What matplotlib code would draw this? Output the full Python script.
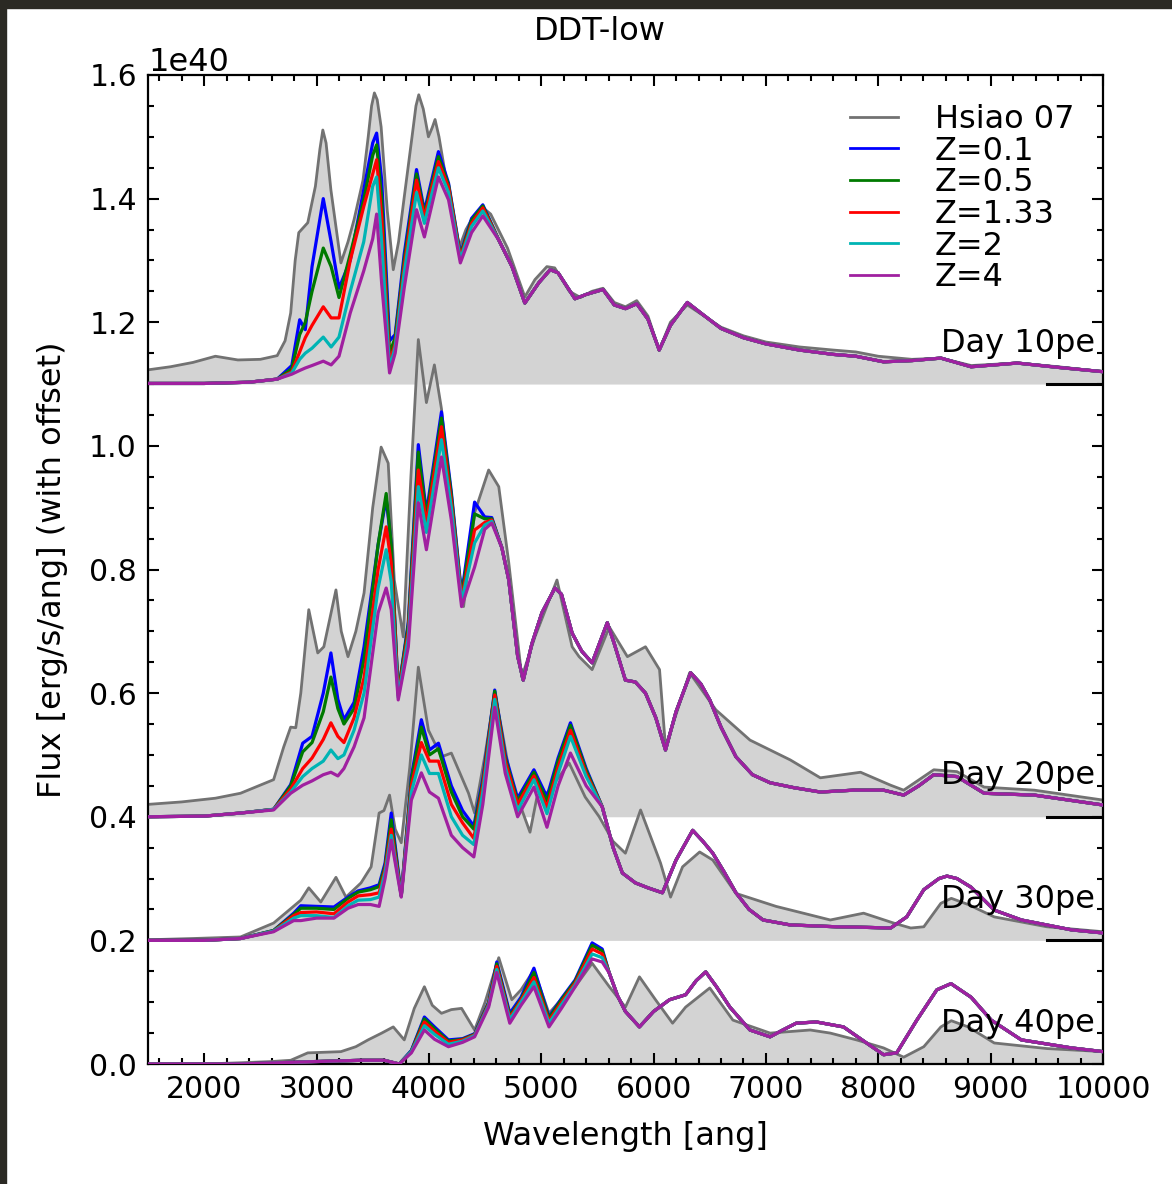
import numpy as np
import matplotlib
matplotlib.use("Agg")
import matplotlib.pyplot as plt
from matplotlib.lines import Line2D
from matplotlib.patches import Rectangle
from matplotlib.ticker import MultipleLocator

# ---------------------------------------------------------------------------
# Spectra, flux in units of 1e40 erg/s/ang, already shifted by each epoch offset
# ---------------------------------------------------------------------------
SCALE = 1e40
epochs = ["Day 10pe", "Day 20pe", "Day 30pe", "Day 40pe"]
offsets = [1.1, 0.4, 0.2, 0.0]
z_labels = ["Z=0.1", "Z=0.5", "Z=1.33", "Z=2", "Z=4"]
z_colors = ["#0000ff", "#007a00", "#ff0000", "#00b4b4", "#a020a0"]

# ---- Day 10 ----
hsiao_wl_d10 = [1500, 1700, 1900, 2100, 2300, 2500, 2650, 2720, 2770, 2810, 2842, 2922,
                2990, 3030, 3056, 3085, 3128, 3217, 3280, 3334, 3414, 3460, 3490, 3515, 3540, 3575,
                3630, 3683, 3730, 3781, 3850, 3885, 3910, 3950, 3996, 4030, 4055, 4090, 4139, 4200,
                4273, 4330, 4380, 4470, 4550, 4700, 4854, 4944, 5050, 5120, 5250, 5350,
                5450, 5550, 5650, 5750, 5850, 5950, 6050, 6150, 6300, 6450, 6600, 6800,
                7000, 7300, 7600, 7800, 8000, 8300, 8557, 8826, 9237, 9600, 10000]
hsiao_d10 = [1.123, 1.128, 1.135, 1.145, 1.139, 1.140, 1.146, 1.170, 1.215, 1.300, 1.345, 1.361,
             1.420, 1.480, 1.511, 1.490, 1.414, 1.296, 1.330, 1.366, 1.430, 1.500, 1.550, 1.571, 1.560, 1.516,
             1.380, 1.285, 1.330, 1.403, 1.500, 1.550, 1.568, 1.545, 1.500, 1.515, 1.528, 1.500, 1.447, 1.380,
             1.322, 1.350, 1.366, 1.387, 1.375, 1.320, 1.241, 1.269, 1.290, 1.288, 1.250, 1.240,
             1.250, 1.255, 1.232, 1.225, 1.235, 1.210, 1.155, 1.200, 1.228, 1.210, 1.192, 1.178,
             1.168, 1.160, 1.155, 1.152, 1.145, 1.140, 1.142, 1.130, 1.134, 1.128, 1.120]

blue_wl_d10 = [1500, 2000, 2400, 2650, 2780, 2850, 2900, 2960, 3060, 3130, 3200, 3300,
               3420, 3500, 3535, 3580, 3650, 3700, 3780, 3890, 3960, 4085, 4175, 4280,
               4380, 4480]
z01_d10 = [1.101, 1.101, 1.103, 1.108, 1.130, 1.204, 1.188, 1.290, 1.400, 1.330, 1.255, 1.300,
           1.414, 1.490, 1.506, 1.430, 1.170, 1.180, 1.310, 1.447, 1.380, 1.476, 1.425, 1.310,
           1.368, 1.390]
z05_d10 = [1.101, 1.101, 1.103, 1.108, 1.125, 1.180, 1.200, 1.250, 1.320, 1.290, 1.240, 1.310,
           1.398, 1.470, 1.487, 1.400, 1.150, 1.175, 1.300, 1.440, 1.375, 1.468, 1.422, 1.308,
           1.365, 1.388]
z133_d10 = [1.101, 1.101, 1.103, 1.108, 1.120, 1.152, 1.175, 1.195, 1.225, 1.207, 1.207, 1.300,
            1.387, 1.440, 1.463, 1.370, 1.135, 1.165, 1.290, 1.430, 1.370, 1.460, 1.418, 1.305,
            1.360, 1.385]
z2_d10 = [1.101, 1.101, 1.103, 1.108, 1.118, 1.140, 1.150, 1.158, 1.176, 1.160, 1.176, 1.250,
          1.330, 1.420, 1.435, 1.330, 1.125, 1.160, 1.280, 1.410, 1.360, 1.450, 1.410, 1.302,
          1.355, 1.380]
z4_d10 = [1.101, 1.101, 1.103, 1.108, 1.116, 1.122, 1.126, 1.130, 1.137, 1.131, 1.145, 1.215,
          1.283, 1.335, 1.375, 1.262, 1.118, 1.150, 1.255, 1.382, 1.338, 1.435, 1.398, 1.296,
          1.345, 1.372]
tail_wl_d10 = [4622, 4740, 4854, 4979, 5080, 5150, 5300, 5400, 5550, 5650, 5750, 5850,
               5950, 6050, 6150, 6300, 6420, 6600, 6800, 7000, 7300, 7600, 7800, 8047,
               8300, 8557, 8826, 9237, 9600, 10000]
tail_d10 = [1.333, 1.290, 1.231, 1.264, 1.285, 1.280, 1.238, 1.245, 1.253, 1.228, 1.222, 1.230,
            1.205, 1.155, 1.195, 1.232, 1.215, 1.190, 1.175, 1.165, 1.155, 1.148, 1.145, 1.136,
            1.138, 1.142, 1.128, 1.134, 1.127, 1.120]

# ---- Day 20 ----
hsiao_wl_d20 = [1500, 1800, 2100, 2323, 2618, 2708, 2770, 2815, 2860, 2931, 3011, 3065,
                3173, 3220, 3280, 3350, 3423, 3500, 3575, 3638, 3692, 3772, 3840, 3906,
                3978, 4049, 4112, 4228, 4309, 4407, 4532, 4622, 4711, 4827, 4944, 5140,
                5275, 5337, 5453, 5606, 5767, 5928, 6053, 6106, 6321, 6554, 6858, 7216,
                7484, 7842, 8110, 8226, 8494, 8700, 8942, 9389, 10000]
hsiao_d20 = [0.420, 0.424, 0.430, 0.438, 0.460, 0.513, 0.545, 0.544, 0.600, 0.735, 0.665, 0.675,
             0.767, 0.700, 0.659, 0.700, 0.762, 0.900, 0.998, 0.972, 0.783, 0.691, 0.950, 1.172,
             1.070, 1.131, 1.060, 0.848, 0.740, 0.892, 0.961, 0.934, 0.811, 0.626, 0.691, 0.783,
             0.675, 0.659, 0.638, 0.707, 0.659, 0.675, 0.638, 0.513, 0.633, 0.573, 0.524, 0.492,
             0.463, 0.472, 0.451, 0.443, 0.476, 0.473, 0.448, 0.443, 0.427]

blue_wl_d20 = [1500, 2000, 2323, 2618, 2770, 2877, 2960, 3060, 3128, 3190, 3244, 3334,
               3423, 3548, 3620, 3665, 3727, 3817, 3906, 3978, 4112, 4200, 4291, 4407,
               4497, 4560]
z01_d20 = [0.400, 0.401, 0.406, 0.412, 0.452, 0.519, 0.530, 0.600, 0.665, 0.590, 0.557, 0.585,
           0.675, 0.840, 0.915, 0.840, 0.600, 0.715, 1.002, 0.892, 1.055, 0.925, 0.760, 0.909,
           0.885, 0.884]
z05_d20 = [0.400, 0.401, 0.406, 0.412, 0.450, 0.505, 0.520, 0.570, 0.626, 0.575, 0.550, 0.575,
           0.655, 0.840, 0.923, 0.840, 0.600, 0.710, 0.990, 0.885, 1.045, 0.920, 0.756, 0.890,
           0.882, 0.882]
z133_d20 = [0.400, 0.401, 0.406, 0.412, 0.445, 0.478, 0.495, 0.525, 0.552, 0.530, 0.520, 0.560,
            0.625, 0.800, 0.869, 0.810, 0.596, 0.700, 0.961, 0.875, 1.031, 0.910, 0.752, 0.864,
            0.876, 0.880]
z2_d20 = [0.400, 0.401, 0.406, 0.412, 0.440, 0.465, 0.478, 0.490, 0.508, 0.494, 0.500, 0.540,
          0.600, 0.770, 0.832, 0.780, 0.593, 0.690, 0.934, 0.860, 1.010, 0.900, 0.748, 0.843,
          0.872, 0.878]
z4_d20 = [0.400, 0.401, 0.406, 0.411, 0.438, 0.451, 0.458, 0.468, 0.472, 0.466, 0.478, 0.513,
          0.560, 0.730, 0.770, 0.735, 0.589, 0.675, 0.908, 0.832, 0.982, 0.880, 0.740, 0.804,
          0.865, 0.875]
tail_wl_d20 = [4650, 4711, 4790, 4840, 4917, 5006, 5122, 5180, 5275, 5360, 5453, 5588,
               5650, 5749, 5838, 5928, 6020, 6106, 6200, 6330, 6420, 6500, 6600, 6733,
               6880, 7037, 7250, 7484, 7780, 8047, 8226, 8360, 8494, 8700, 8942, 9389, 10000]
tail_d20 = [0.835, 0.783, 0.660, 0.621, 0.680, 0.730, 0.770, 0.760, 0.697, 0.668, 0.649, 0.714,
            0.680, 0.621, 0.618, 0.600, 0.560, 0.508, 0.570, 0.633, 0.615, 0.589, 0.545, 0.497,
            0.468, 0.455, 0.447, 0.440, 0.443, 0.443, 0.435, 0.450, 0.468, 0.465, 0.438, 0.435,
            0.419]

# ---- Day 30 ----
hsiao_wl_d30 = [1500, 1900, 2323, 2618, 2860, 2931, 3038, 3173, 3262, 3396, 3486, 3557,
                3600, 3650, 3700, 3754, 3830, 3906, 3996, 4112, 4200, 4353, 4407, 4500,
                4586, 4650, 4738, 4830, 4900, 4960, 5060, 5248, 5391, 5516, 5640, 5749,
                5884, 6062, 6151, 6258, 6410, 6527, 6733, 7090, 7332, 7573, 7869, 8137,
                8289, 8405, 8557, 8650, 8800, 9032, 9500, 10000]
hsiao_d30 = [0.201, 0.203, 0.2055, 0.228, 0.265, 0.285, 0.262, 0.302, 0.270, 0.293, 0.319, 0.406,
             0.410, 0.435, 0.380, 0.358, 0.480, 0.642, 0.540, 0.497, 0.503, 0.438, 0.406, 0.500,
             0.600, 0.540, 0.450, 0.410, 0.375, 0.430, 0.440, 0.487, 0.432, 0.400, 0.360, 0.341,
             0.411, 0.325, 0.270, 0.319, 0.343, 0.330, 0.276, 0.255, 0.244, 0.233, 0.244, 0.228,
             0.220, 0.222, 0.260, 0.268, 0.258, 0.238, 0.222, 0.214]

blue_wl_d30 = [1500, 2000, 2323, 2618, 2797, 2860, 3000, 3155, 3280, 3370, 3480, 3557,
               3610, 3665, 3754, 3844, 3933, 4005, 4085, 4200, 4300, 4400, 4480, 4586,
               4680, 4790, 4935, 5051, 5150, 5260, 5400]
z01_d30 = [0.200, 0.200, 0.203, 0.216, 0.244, 0.256, 0.255, 0.254, 0.270, 0.280, 0.285, 0.290,
           0.325, 0.406, 0.272, 0.465, 0.557, 0.508, 0.519, 0.450, 0.410, 0.385, 0.460, 0.605,
           0.500, 0.430, 0.476, 0.432, 0.495, 0.552, 0.478]
z05_d30 = [0.200, 0.200, 0.203, 0.216, 0.242, 0.252, 0.252, 0.250, 0.268, 0.278, 0.282, 0.287,
           0.320, 0.395, 0.272, 0.460, 0.545, 0.500, 0.510, 0.440, 0.400, 0.380, 0.455, 0.603,
           0.495, 0.425, 0.472, 0.425, 0.490, 0.548, 0.475]
z133_d30 = [0.200, 0.200, 0.203, 0.215, 0.240, 0.245, 0.246, 0.243, 0.262, 0.272, 0.274, 0.277,
            0.315, 0.380, 0.272, 0.450, 0.520, 0.490, 0.490, 0.420, 0.390, 0.365, 0.450, 0.597,
            0.490, 0.420, 0.466, 0.415, 0.480, 0.540, 0.470]
z2_d30 = [0.200, 0.200, 0.203, 0.215, 0.236, 0.240, 0.240, 0.237, 0.256, 0.265, 0.266, 0.270,
          0.310, 0.370, 0.272, 0.440, 0.500, 0.470, 0.470, 0.400, 0.370, 0.355, 0.440, 0.590,
          0.480, 0.410, 0.460, 0.405, 0.470, 0.530, 0.465]
z4_d30 = [0.200, 0.200, 0.203, 0.214, 0.232, 0.232, 0.236, 0.236, 0.252, 0.258, 0.258, 0.255,
          0.300, 0.362, 0.270, 0.427, 0.471, 0.440, 0.430, 0.370, 0.350, 0.335, 0.420, 0.577,
          0.470, 0.400, 0.448, 0.383, 0.450, 0.503, 0.450]
tail_wl_d30 = [5543, 5640, 5722, 5838, 5950, 6079, 6200, 6348, 6440, 6527, 6630, 6733,
               6850, 6974, 7216, 7627, 7900, 8110, 8253, 8405, 8540, 8611, 8700, 8826, 9032,
               9273, 9720, 10000]
tail_d30 = [0.416, 0.350, 0.309, 0.293, 0.285, 0.277, 0.330, 0.378, 0.360, 0.341, 0.310, 0.277,
            0.250, 0.233, 0.225, 0.222, 0.221, 0.220, 0.238, 0.282, 0.300, 0.304, 0.300, 0.286, 0.249,
            0.233, 0.217, 0.212]

# ---- Day 40 ----
hsiao_wl_d40 = [1500, 2000, 2323, 2600, 2770, 2922, 3217, 3350, 3459, 3580, 3683, 3781,
                3870, 3960, 4030, 4112, 4200, 4291, 4407, 4500, 4622, 4738, 4820, 4935,
                5069, 5180, 5302, 5453, 5606, 5749, 5874, 6017, 6169, 6285, 6500, 6706,
                7037, 7394, 7573, 7806, 8047, 8226, 8405, 8557, 8650, 8800, 9032, 9500, 10000]
hsiao_d40 = [0.000, 0.000, 0.002, 0.004, 0.006, 0.018, 0.020, 0.028, 0.039, 0.050, 0.060, 0.039,
             0.090, 0.125, 0.095, 0.082, 0.088, 0.090, 0.055, 0.100, 0.172, 0.104, 0.120, 0.152,
             0.082, 0.105, 0.125, 0.163, 0.125, 0.092, 0.141, 0.104, 0.066, 0.092, 0.123, 0.071,
             0.050, 0.055, 0.050, 0.039, 0.026, 0.011, 0.028, 0.060, 0.070, 0.060, 0.034, 0.025,
             0.020]

blue_wl_d40 = [1500, 2323, 3000, 3400, 3602, 3736, 3844, 3960, 4050, 4174, 4300, 4407,
               4532, 4604, 4720, 4820, 4935, 5069, 5180, 5302, 5453, 5543]
z01_d40 = [0.000, 0.000, 0.004, 0.006, 0.006, 0.000, 0.022, 0.076, 0.060, 0.039, 0.041, 0.049,
           0.100, 0.165, 0.082, 0.108, 0.155, 0.076, 0.106, 0.136, 0.196, 0.186]
z05_d40 = [0.000, 0.000, 0.004, 0.006, 0.006, 0.000, 0.021, 0.073, 0.057, 0.037, 0.040, 0.048,
           0.099, 0.162, 0.078, 0.105, 0.148, 0.074, 0.104, 0.134, 0.192, 0.183]
z133_d40 = [0.000, 0.000, 0.004, 0.006, 0.006, 0.000, 0.020, 0.068, 0.053, 0.035, 0.039, 0.047,
            0.097, 0.158, 0.075, 0.103, 0.140, 0.070, 0.100, 0.131, 0.186, 0.178]
z2_d40 = [0.000, 0.000, 0.004, 0.006, 0.006, 0.000, 0.020, 0.062, 0.048, 0.032, 0.037, 0.046,
          0.095, 0.153, 0.072, 0.100, 0.133, 0.066, 0.096, 0.128, 0.178, 0.172]
z4_d40 = [0.000, 0.000, 0.004, 0.006, 0.006, 0.000, 0.018, 0.055, 0.040, 0.028, 0.035, 0.044,
          0.092, 0.148, 0.066, 0.095, 0.125, 0.060, 0.090, 0.125, 0.170, 0.165]
tail_wl_d40 = [5606, 5680, 5749, 5874, 6000, 6142, 6285, 6380, 6464, 6560, 6679, 6858,
               7037, 7150, 7269, 7448, 7690, 7895, 8047, 8164, 8343, 8521, 8647, 8826,
               9005, 9273, 9720, 10000]
tail_d40 = [0.147, 0.110, 0.085, 0.060, 0.085, 0.104, 0.112, 0.135, 0.149, 0.125, 0.092, 0.055,
            0.044, 0.055, 0.066, 0.068, 0.060, 0.034, 0.015, 0.018, 0.071, 0.120, 0.130, 0.108,
            0.071, 0.039, 0.026, 0.020]

hsiao_sets = [(hsiao_wl_d10, hsiao_d10), (hsiao_wl_d20, hsiao_d20),
              (hsiao_wl_d30, hsiao_d30), (hsiao_wl_d40, hsiao_d40)]
model_sets = [
    (blue_wl_d10, [z01_d10, z05_d10, z133_d10, z2_d10, z4_d10], tail_wl_d10, tail_d10),
    (blue_wl_d20, [z01_d20, z05_d20, z133_d20, z2_d20, z4_d20], tail_wl_d20, tail_d20),
    (blue_wl_d30, [z01_d30, z05_d30, z133_d30, z2_d30, z4_d30], tail_wl_d30, tail_d30),
    (blue_wl_d40, [z01_d40, z05_d40, z133_d40, z2_d40, z4_d40], tail_wl_d40, tail_d40),
]

# ---------------------------------------------------------------------------
FS = 23
plt.rcParams["font.family"] = "DejaVu Sans"
fig = plt.figure(figsize=(11.72, 11.84), dpi=100)
ax = fig.add_axes([148 / 1172, 1 - 1064 / 1184, (1103 - 148) / 1172, (1064 - 75) / 1184])

fill_color = "#d3d3d3"
hsiao_color = "#727272"

for (wl, fl), off in zip(hsiao_sets, offsets):
    wl = np.asarray(wl, float)
    fl = np.asarray(fl, float) * SCALE
    ax.fill_between(wl, off * SCALE, fl, color=fill_color, lw=0, zorder=1)

for (wl, fl) in hsiao_sets:
    ax.plot(wl, np.asarray(fl) * SCALE, color=hsiao_color, lw=2.0, zorder=2,
            solid_joinstyle="round")

for wl_b, zsets, wl_t, fl_t in model_sets:
    for zvals, col in zip(zsets, z_colors):
        wl = np.concatenate([wl_b, wl_t])
        fl = np.concatenate([zvals, fl_t]) * SCALE
        ax.plot(wl, fl, color=col, lw=2.3, zorder=3, solid_joinstyle="round")

# zero levels of the shifted spectra
for off in offsets[:3]:
    ax.plot([9500, 10000], [off * SCALE, off * SCALE], color="black", lw=2.2, zorder=4)

for name, off in zip(epochs, offsets):
    ax.text(9930, (off + 0.066) * SCALE, name, ha="right", va="center",
            fontsize=FS, zorder=5)

ax.set_xlim(1500, 10000)
ax.set_ylim(0, 1.6 * SCALE)
ax.xaxis.set_major_locator(MultipleLocator(1000))
ax.xaxis.set_minor_locator(MultipleLocator(200))
ax.yaxis.set_major_locator(MultipleLocator(0.2 * SCALE))
ax.yaxis.set_minor_locator(MultipleLocator(0.05 * SCALE))
ax.tick_params(which="both", direction="in", top=True, right=True, width=1.5)
ax.tick_params(which="major", length=8, labelsize=21.5, pad=8)
ax.tick_params(which="minor", length=4.5)
ax.yaxis.get_offset_text().set_fontsize(FS)
for s in ax.spines.values():
    s.set_linewidth(1.6)

ax.set_xlabel("Wavelength [ang]", fontsize=FS, labelpad=12)
ax.set_ylabel("Flux [erg/s/ang] (with offset)", fontsize=FS, labelpad=15)
fig.text(600 / 1172, 1 - 31 / 1184, "DDT-low", ha="center", va="center", fontsize=FS)

handles = [Line2D([], [], color=hsiao_color, lw=2)] + \
          [Line2D([], [], color=c, lw=2) for c in z_colors]
ax.legend(handles, ["Hsiao 07"] + z_labels, loc="upper left",
          bbox_to_anchor=((850 - 148) / 955, (1064 - 104) / 989),
          frameon=False, fontsize=FS, borderpad=0, borderaxespad=0,
          labelspacing=0.02, handlelength=1.5, handletextpad=1.15)

# dark frame strips along the top and left edges
fig.patches.append(Rectangle((0, 1 - 8 / 1184), 1, 8 / 1184, transform=fig.transFigure,
                             color="#2b2a24", zorder=10))
fig.patches.append(Rectangle((0, 0), 6 / 1172, 1, transform=fig.transFigure,
                             color="#2b2a24", zorder=10))

fig.savefig("out.png", dpi=100)
